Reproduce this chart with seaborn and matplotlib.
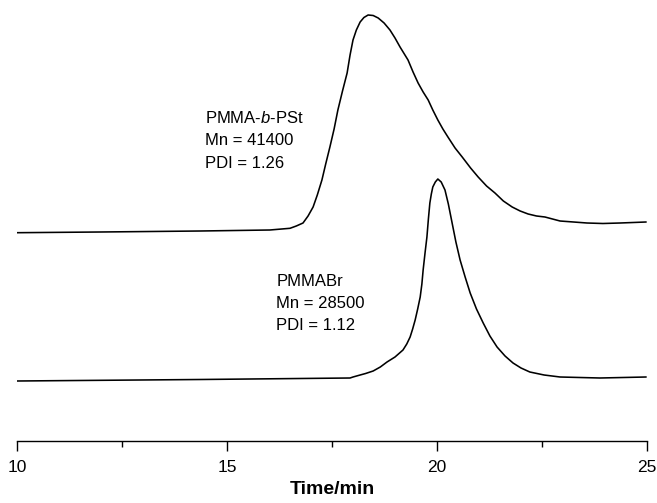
import matplotlib
matplotlib.use("Agg")
import matplotlib.pyplot as plt
import seaborn as sns
import pandas as pd
from matplotlib.ticker import MultipleLocator

# GPC traces (time in min, signal in arbitrary units)
block_time = [10.00, 11.98, 14.36, 16.02, 16.50, 16.65, 16.81, 16.93, 17.05, 17.15,
              17.26, 17.35, 17.45, 17.55, 17.64, 17.75, 17.86, 17.93, 18.00, 18.08,
              18.17, 18.26, 18.36, 18.48, 18.60, 18.74, 18.88, 19.00, 19.12, 19.31,
              19.43, 19.55, 19.67, 19.79, 19.90, 20.02, 20.14, 20.26, 20.43, 20.60,
              20.80, 20.98, 21.18, 21.38, 21.58, 21.79, 21.98, 22.17, 22.37, 22.57,
              22.75, 22.93, 23.25, 23.57, 23.95, 24.36, 24.98]
block_signal = [208.3, 209, 210, 211, 212.7, 215, 218, 225, 234, 246,
                261, 277, 294, 312, 331, 350, 368, 386, 401, 411,
                419, 423.5, 426, 425.5, 423, 418, 411, 403, 394, 381,
                369, 358, 349, 341, 331, 321, 312, 304, 293, 284,
                273, 264, 255, 248, 240, 234, 230, 227, 225, 224,
                222, 220, 219, 218, 217.5, 218, 219]

macro_time = [10.00, 14.36, 17.93, 18.00, 18.17, 18.30, 18.48, 18.65, 18.81, 19.00,
              19.19, 19.28, 19.36, 19.42, 19.48, 19.54, 19.60, 19.64, 19.67, 19.715,
              19.76, 19.795, 19.83, 19.865, 19.90, 19.96, 20.02, 20.10, 20.19, 20.27,
              20.36, 20.45, 20.55, 20.67, 20.79, 20.94, 21.10, 21.26, 21.43, 21.62,
              21.81, 22.00, 22.21, 22.55, 22.93, 23.40, 23.88, 24.98]
macro_signal = [60, 61.5, 63, 64, 66, 67.5, 70, 74, 79, 84,
                91, 97, 104, 112, 121, 132, 144, 157, 171, 188,
                204, 222, 238, 247, 254, 259, 262, 259, 251, 237,
                218, 199, 181, 164, 148, 132, 118, 105, 94, 85,
                78, 73, 69, 66, 64, 63.5, 63, 64]

block_label = ["PMMA-$b$-PSt", "Mn = 41400", "PDI = 1.26"]
macro_label = ["PMMABr", "Mn = 28500", "PDI = 1.12"]

sns.set_style("ticks")
plt.rcParams['font.family'] = ['Liberation Sans', 'DejaVu Sans']
plt.rcParams['mathtext.fontset'] = 'custom'
plt.rcParams['mathtext.rm'] = 'Liberation Sans'
plt.rcParams['mathtext.it'] = 'Liberation Sans:italic'
plt.rcParams['text.color'] = 'black'
plt.rcParams['axes.labelcolor'] = 'black'

df = pd.concat([
    pd.DataFrame({"time": block_time, "signal": block_signal, "sample": "block"}),
    pd.DataFrame({"time": macro_time, "signal": macro_signal, "sample": "macro"}),
])

fig = plt.figure(figsize=(6.57, 5.03), dpi=100)
ax = fig.add_axes([17 / 657, 62 / 503, 630 / 657, 441 / 503])

sns.lineplot(data=df, x="time", y="signal", units="sample", estimator=None,
             color="black", linewidth=1.15, ax=ax, legend=False)

ax.set_xlim(10, 25)
ax.set_ylim(0, 441)
ax.xaxis.set_major_locator(MultipleLocator(5))
ax.xaxis.set_minor_locator(MultipleLocator(2.5))
ax.tick_params(axis="x", which="major", length=7, width=1, labelsize=12.5,
               colors="black", labelcolor="black", pad=7)
ax.tick_params(axis="x", which="minor", length=4, width=1, colors="black")
ax.set_yticks([])
ax.set_ylabel("")
for s in ["left", "top", "right"]:
    ax.spines[s].set_visible(False)
ax.spines["bottom"].set_linewidth(1)
ax.spines["bottom"].set_color("black")
ax.set_xlabel("Time/min", fontsize=14, fontweight="bold", labelpad=4, color="black")
ax.patch.set_alpha(0)

for i, line in enumerate(block_label):
    ax.text(14.48, 323 - 22.5 * i, line, fontsize=12, va="center", ha="left", color="black")
for i, line in enumerate(macro_label):
    ax.text(16.17, 159 - 21.5 * i, line, fontsize=12, va="center", ha="left", color="black")

fig.savefig("out.png", dpi=100)
